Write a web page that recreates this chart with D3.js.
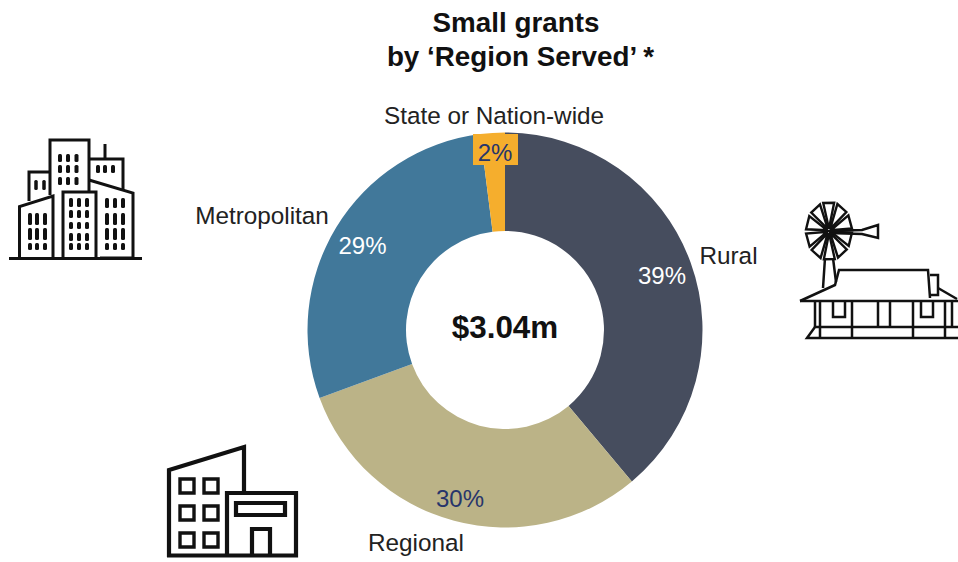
<!DOCTYPE html>
<html><head><meta charset="utf-8">
<script src="https://cdn.jsdelivr.net/npm/d3@7/dist/d3.min.js"></script>
<style>html,body{margin:0;padding:0;background:#fff}svg{display:block}text{font-family:"Liberation Sans",Arial,sans-serif}</style>
</head><body><div id="c"></div>
<script>
const categories=["Rural","Regional","Metropolitan","State or Nation-wide"];
const values=[38.9,30.5,28.6,2];
const colors=["#464d5e","#bbb387","#41789a","#f5ae2d"];
const pctLabels=["39%","30%","29%","2%"];
const pctColors=["#ffffff","#27356b","#ffffff","#27356b"];
const titleLines=["Small grants","by ‘Region Served’ *"];
const titleX=[516,520.5];
const centerLabel="$3.04m";
const svg=d3.select("#c").append("svg").attr("width",958).attr("height",562);
const cx=505,cy=330,R=197.5,r=99;
const g=svg.append("g").attr("transform",`translate(${cx},${cy})`);
const arcs=d3.pie().sort(null).value(d=>d)(values);
const arc=d3.arc().innerRadius(r).outerRadius(R);
g.selectAll("path").data(arcs).join("path").attr("d",arc).attr("fill",(d,i)=>colors[i]);
svg.append("rect").attr("x",473).attr("y",134).attr("width",45).attr("height",31).attr("fill",colors[3]);
titleLines.forEach((t,i)=>svg.append("text").attr("x",titleX[i]).attr("y",31.5+i*34.5).attr("text-anchor","middle").attr("font-size",27.8).attr("font-weight","bold").attr("fill","#111").text(t));
svg.append("text").attr("x",505).attr("y",338).attr("text-anchor","middle").attr("font-size",31.4).attr("font-weight","bold").attr("fill","#111").text(centerLabel);
const pctPos=[[662,276],[460,499],[362.5,246],[495,153]];
pctLabels.forEach((t,i)=>svg.append("text").attr("x",pctPos[i][0]).attr("y",pctPos[i][1]+8).attr("text-anchor","middle").attr("font-size",24).attr("fill",pctColors[i]).text(t));
const catPos=[[728.5,256],[416,543],[262,216],[494,116]];
categories.forEach((t,i)=>svg.append("text").attr("x",catPos[i][0]).attr("y",catPos[i][1]+8).attr("text-anchor","middle").attr("font-size",24.3).attr("fill","#222").text(t));
// icons
const ic=svg.append("g").attr("fill","none").attr("stroke","#111").attr("stroke-width",3);
function p(d,w){const e=ic.append("path").attr("d",d);if(w)e.attr("stroke-width",w);return e;}
// city
p("M9 258.5H142");
p("M19.5 258V206.5L53 196V258");
p("M29 201V172H50");
p("M50 195V140H89V191");
p("M63 258V192H96V258");
p("M89 159H123V190");
p("M105 159V144");
p("M89 180L133 193V258H100");
function win(xs,ys,w){xs.forEach(x=>ys.forEach(y=>svg.append("rect").attr("x",x-w/2).attr("y",y[0]).attr("width",w).attr("height",y[1]-y[0]).attr("rx",1.5).attr("fill","#111")));}
win([60,68,76.5],[[154,162],[165,173],[177,185]],4);
win([98,105,113],[[165,173]],4);
win([36,44],[[180,190]],3.5);
win([30,37,45],[[213,225],[228,240],[243,250]],4);
win([71,79,87],[[198,207],[210,218],[222,229],[233,241],[243,250]],4);
win([107,115,123],[[198,208],[213,225],[228,240],[243,250]],4);
// buildings
const s=4.2;
p("M169 557V470L244 447V492",s);
p("M167 555.5H296V493H227V555",s);
p("M236 503H285V515H236Z",s);
p("M252 555V529H270V555",s);
[[180,479],[204,479],[180,506],[204,506],[180,533],[204,533]].forEach(a=>p(`M${a[0]} ${a[1]}h14v14h-14Z`,3.4));
// farm
const f=ic.append("g").attr("stroke-width",2.5);
const wx=829,wy=231;
d3.range(10).forEach(i=>{const a=i/10*2*Math.PI+0.3;
 const pt=(rad,off)=>{const rr=rad/25;return [wx+23*rr*Math.cos(a+off),wy+29*rr*Math.sin(a+off)];};
 f.append("path").attr("d",`M${pt(2,0)}L${pt(25,-0.24)}L${pt(25,0.24)}Z`).attr("stroke-width",2.4);});
f.append("path").attr("d",`M${wx} ${wy}L862 230L878 225V238L862 234L${wx} 233`);
f.append("path").attr("d","M825 258L823 288M833 258L836 282");
f.append("path").attr("d","M800 301L835 285L839 270H928L930 298");
f.append("path").attr("d","M930 275H938V295H930");
f.append("path").attr("d","M938 288L957 299");
f.append("path").attr("d","M800 301H958",3);
f.append("path").attr("d","M815 302V327M878 302V327M890 302V327M952 302V327");
f.append("path").attr("d","M833 302V317H845V302M921 302V317H933V302");
f.append("path").attr("d","M815 327H958M958 338H807L815 327M820 302V338M852 302V338M913 302V338M945 302V338");
</script></body></html>
